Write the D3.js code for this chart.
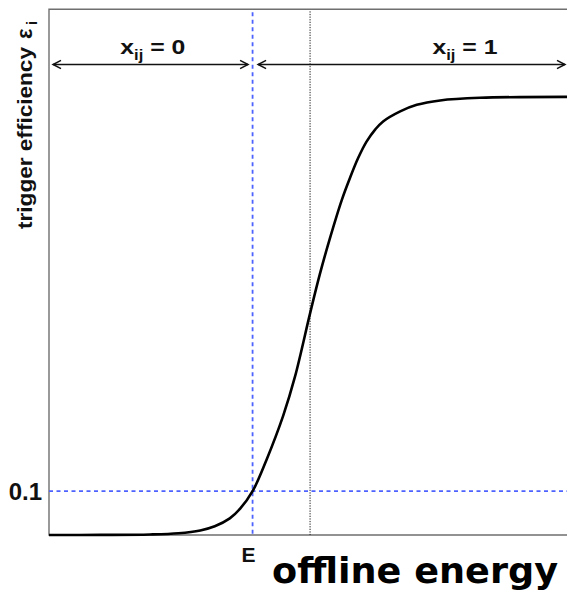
<!DOCTYPE html>
<html>
<head>
<meta charset="utf-8">
<script src="https://cdn.jsdelivr.net/npm/d3@7"></script>
<style>
  html, body { margin: 0; padding: 0; background: #fff; }
  svg { display: block; }
</style>
</head>
<body>
<svg id="chart" width="567" height="594"></svg>
<script>
// Turn-on curve of the trigger: efficiency versus offline energy (arbitrary units)
const energy = [0, 10, 19.5, 25, 29.2, 32, 34.9, 36.9, 39.3, 42.0, 45.2, 47.5, 50.4, 52.3, 54.2, 56.5, 58.1, 59.7, 61.3, 63.0, 64.5, 67.8, 71.0, 75.5, 83.2, 100];
const efficiency = [0, 0.0002, 0.0012, 0.004, 0.0105, 0.020, 0.038, 0.060, 0.100, 0.172, 0.272, 0.362, 0.506, 0.596, 0.676, 0.764, 0.815, 0.861, 0.898, 0.926, 0.944, 0.967, 0.982, 0.992, 0.998, 1.0];

// Reference levels
const thresholdEff = [0.1];     // efficiency level marked on the y axis
const thresholdEnergy = [39.3]; // energy E where the curve reaches 0.1
const midEnergy = [50.4];       // energy where the curve reaches one half

const yTickLabels = ["0.1"];
const xTickLabels = ["E"];
const regionMain = ["x", "x"];
const regionSub = ["ij", "ij"];
const regionRest = [" = 0", " = 1"];

const plotLeft = 49, plotTop = 9.3, plotBottom = 535, plotRight = 567;

const svg = d3.select("#chart");
const x = d3.scaleLinear().domain([0, 100]).range([plotLeft, plotRight]);
const y = d3.scaleLinear().domain([0, 1.2]).range([plotBottom, plotTop]);

// Frame (open on the right)
svg.append("path")
  .attr("d", `M${plotRight + 2},${plotTop} H${plotLeft} V${plotBottom} H${plotRight + 2}`)
  .attr("fill", "none")
  .attr("stroke", "#6f6f6f")
  .attr("stroke-width", 1.4);

const E = thresholdEnergy[0];

// Guide lines
svg.append("line")
  .attr("x1", x(0)).attr("x2", plotRight)
  .attr("y1", y(thresholdEff[0])).attr("y2", y(thresholdEff[0]))
  .attr("stroke", "#4d62ff").attr("stroke-width", 1.8)
  .attr("stroke-dasharray", "4,3.5");

svg.append("line")
  .attr("x1", x(E)).attr("x2", x(E))
  .attr("y1", plotTop + 3).attr("y2", plotBottom)
  .attr("stroke", "#4d62ff").attr("stroke-width", 1.8)
  .attr("stroke-dasharray", "4,3.5");

svg.append("line")
  .attr("x1", x(midEnergy[0])).attr("x2", x(midEnergy[0]))
  .attr("y1", plotTop + 2).attr("y2", plotBottom)
  .attr("stroke", "#222").attr("stroke-width", 1)
  .attr("stroke-dasharray", "1.3,1.3");

// Efficiency curve
const line = d3.line()
  .x((d, i) => x(energy[i]))
  .y((d, i) => y(efficiency[i]))
  .curve(d3.curveCatmullRom.alpha(0.5));

svg.append("path")
  .datum(energy)
  .attr("d", line)
  .attr("fill", "none")
  .attr("stroke", "#000")
  .attr("stroke-width", 2.6)
  .attr("stroke-linejoin", "round");

// Double-headed region arrows
const arrowY = 64.5;
function arrow(x1, x2) {
  const g = svg.append("g").attr("fill", "none").attr("stroke", "#111").attr("stroke-width", 1.5);
  g.append("line").attr("x1", x1).attr("x2", x2).attr("y1", arrowY).attr("y2", arrowY);
  g.append("path").attr("d", `M${x1 + 8},${arrowY - 4.2} L${x1},${arrowY} L${x1 + 8},${arrowY + 4.2}`);
  g.append("path").attr("d", `M${x2 - 8},${arrowY - 4.2} L${x2},${arrowY} L${x2 - 8},${arrowY + 4.2}`);
}
arrow(x(0) + 4, x(E) - 4.5);
arrow(x(E) + 5.5, plotRight - 2);

// Region labels x_ij = 0 / x_ij = 1
const labelCenters = [(x(0) + x(E)) / 2 + 2, 465];
regionMain.forEach((m, i) => {
  const t = svg.append("text")
    .attr("x", labelCenters[i]).attr("y", 53.5)
    .attr("text-anchor", "middle")
    .attr("font-family", "'Liberation Sans', Arial, sans-serif")
    .attr("font-weight", "bold")
    .attr("font-size", 21)
    .attr("textLength", 65)
    .attr("lengthAdjust", "spacingAndGlyphs")
    .attr("fill", "#111");
  t.append("tspan").text(m);
  t.append("tspan").attr("font-size", 14).attr("dy", 6).text(regionSub[i]);
  t.append("tspan").attr("dy", -6).text(regionRest[i]);
});

// Y tick label 0.1
svg.append("text")
  .attr("x", 42).attr("y", y(thresholdEff[0]) + 8.5)
  .attr("text-anchor", "end")
  .attr("font-family", "'Liberation Sans', Arial, sans-serif")
  .attr("font-weight", "bold")
  .attr("font-size", 24)
  .attr("fill", "#111")
  .text(yTickLabels[0]);

// X tick label E
svg.append("text")
  .attr("x", x(E) - 4).attr("y", 562)
  .attr("text-anchor", "middle")
  .attr("font-family", "'Liberation Sans', Arial, sans-serif")
  .attr("font-weight", "bold")
  .attr("font-size", 21)
  .attr("fill", "#111")
  .text(xTickLabels[0]);

// X axis title
svg.append("text")
  .attr("x", 272).attr("y", 583)
  .attr("font-family", "'DejaVu Sans', Verdana, sans-serif")
  .attr("font-weight", "bold")
  .attr("font-size", 36)
  .attr("textLength", 286)
  .attr("lengthAdjust", "spacingAndGlyphs")
  .attr("fill", "#000")
  .text("offline energy");

// Y axis title, rotated
const yt = svg.append("g").attr("transform", "translate(32,229) rotate(-90)")
  .attr("font-family", "'Liberation Sans', Arial, sans-serif")
  .attr("font-weight", "bold")
  .attr("fill", "#111");
yt.append("text").attr("x", 0).attr("y", 0)
  .attr("font-size", 21)
  .attr("textLength", 182)
  .attr("lengthAdjust", "spacingAndGlyphs")
  .text("trigger efficiency");
yt.append("text").attr("x", 190).attr("y", 0)
  .attr("font-size", 22)
  .text("ε");
yt.append("text").attr("x", 204).attr("y", 5)
  .attr("font-size", 14)
  .text("i");
</script>
</body>
</html>
